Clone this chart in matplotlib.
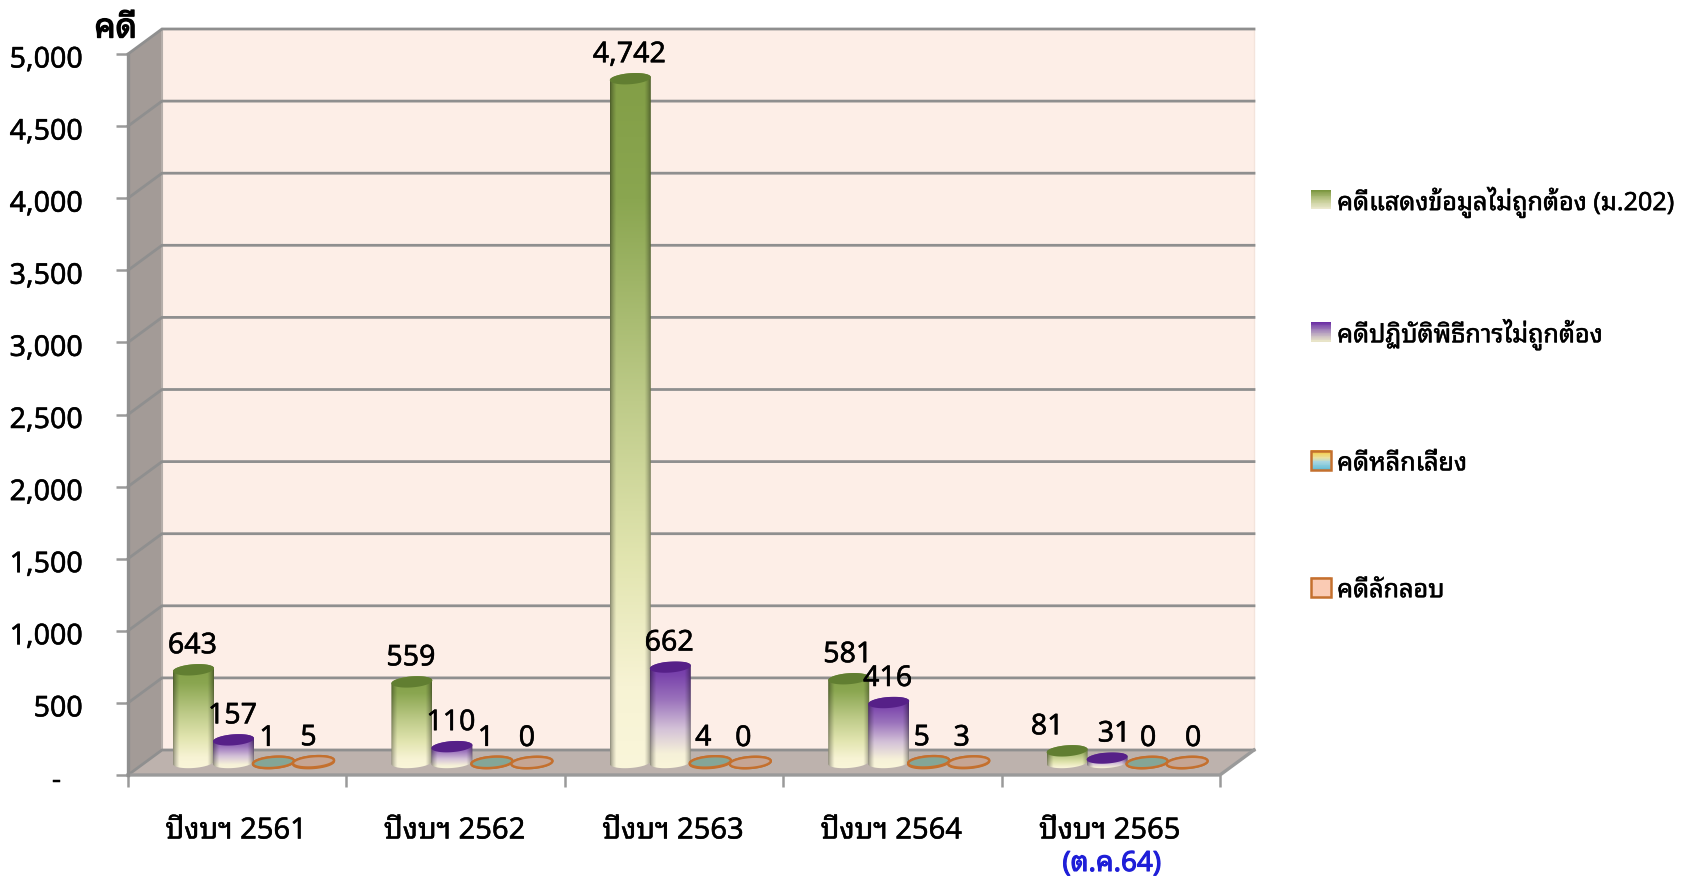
import numpy as np
import matplotlib
matplotlib.use('Agg')
import matplotlib.pyplot as plt
import matplotlib.patheffects as pe
from matplotlib import font_manager as fm
from matplotlib.patches import Polygon, Rectangle
from matplotlib.legend_handler import HandlerBase
from matplotlib.transforms import ScaledTranslation

# ---------- data ----------
categories = ['ปีงบฯ 2561', 'ปีงบฯ 2562', 'ปีงบฯ 2563', 'ปีงบฯ 2564', 'ปีงบฯ 2565']
series_names = ['คดีแสดงข้อมูลไม่ถูกต้อง (ม.202)', 'คดีปฏิบัติพิธีการไม่ถูกต้อง', 'คดีหลีกเลี่ยง', 'คดีลักลอบ']
misdeclared = [643, 559, 4742, 581, 81]
procedure = [157, 110, 662, 416, 31]
evasion = [1, 1, 4, 5, 0]
smuggling = [5, 0, 0, 3, 0]
yticks = [0, 500, 1000, 1500, 2000, 2500, 3000, 3500, 4000, 4500, 5000]
yticklabels = ['-   ', '500', '1,000', '1,500', '2,000', '2,500', '3,000', '3,500', '4,000', '4,500', '5,000']
y_title = 'คดี'
note = '(ต.ค.64)'

W, H = 1687, 877
available = {f.name for f in fm.fontManager.ttflist}
cands = ['Noto Sans Thai Looped', 'Noto Sans Thai', 'Sarabun', 'Taviraj', 'Trirong']
thai = [c for c in cands if c in available][:1]
plt.rcParams['font.family'] = thai + ['DejaVu Sans']
plt.rcParams['font.weight'] = 500
HEAVY = [pe.withStroke(linewidth=0.35, foreground='black')]

fig = plt.figure(figsize=(W / 100, H / 100), dpi=100)
L, R, T, B = 128, 1220, 54, 775
ax = fig.add_axes([L / W, 1 - B / H, (R - L) / W, (B - T) / H])
ax.set_xlim(0, 5)
ax.set_ylim(0, 5000)
ax.patch.set_visible(False)
px = 5 / (R - L)          # data x per pixel
py = 5000 / (B - T)       # data y per pixel

DX, DY = 34 * px, 25 * py
GRID = '#8f8f8f'

# walls and floor
ax.add_patch(Rectangle((DX, DY), 5, 5000, fc='#fdeee7', ec='none', zorder=1, clip_on=False))
ax.add_patch(Polygon([(0, 0), (DX, DY), (DX, 5000 + DY), (0, 5000)], fc='#a39b97', ec='none', zorder=1.1, clip_on=False))
ax.add_patch(Polygon([(0, 0), (5, 0), (5 + DX, DY), (DX, DY)], fc='#bdb2ad', ec='none', zorder=1.1, clip_on=False))
for v in yticks:
    ax.plot([0, DX, 5 + DX], [v, v + DY, v + DY], color=GRID, lw=2.0, zorder=1.5, clip_on=False, solid_joinstyle='miter')
ax.plot([0, 5, 5 + DX], [0, 0, DY], color='#9a9a9a', lw=2.4, zorder=1.6, clip_on=False)
ax.plot([0, 0], [0, 5000], color='#8f8f8f', lw=2.4, zorder=1.6, clip_on=False)
ax.plot([DX, DX], [DY, 5000 + DY], color='#b5aeaa', lw=1.5, zorder=1.4, clip_on=False)
ax.plot([5 + DX, 5 + DX], [DY, 5000 + DY], color='#f4e4dc', lw=1, zorder=1.4, clip_on=False)

for s in ax.spines.values():
    s.set_visible(False)
ax.set_yticks(yticks, yticklabels)
ax.set_xticks(range(6), [''] * 6)
ax.tick_params(axis='y', length=8.6, width=1.8, color='#9a9a9a', labelsize=20.6, pad=24, labelcolor='black')
ax.tick_params(axis='x', length=8.6, width=1.8, color='#9a9a9a')
shift = ScaledTranslation(0, -6 / 100, fig.dpi_scale_trans)
for tick in ax.yaxis.get_major_ticks():
    tick.label1.set_va('center')
    tick.label1.set_transform(tick.label1.get_transform() + shift)
    tick.label1.set_path_effects(HEAVY)

# cylinder drawing
HALF_W = 20.5 * px
RY = 5.5 * py
TILT = 1.5 * py
BASE = 12.5 * py
C0, STEP = (193.5 - L) * px, 40 * px

GREEN = [(0, (130, 158, 70)), (.18, (138, 166, 80)), (.47, (190, 203, 137)), (.70, (226, 229, 176)), (.88, (247, 243, 212)), (1, (250, 246, 218))]
PURPLE = [(0, (112, 52, 168)), (.12, (122, 68, 172)), (.35, (155, 115, 188)), (.62, (212, 194, 216)), (.85, (246, 241, 216)), (1, (250, 246, 218))]
TOPS = ['#617e31', '#562088']


def gradient_image(stops, nx=60, ny=220):
    pos = [p for p, _ in stops]
    rows = np.stack([np.interp(np.linspace(0, 1, ny), pos, [c[i] for _, c in stops]) for i in range(3)], axis=1) / 255
    u = np.linspace(-1, 1, nx)
    shade = 0.58 + 0.42 * np.clip((1 - np.abs(u)) / 0.3, 0, 1) ** 0.7
    return rows[:, None, :] * shade[None, :, None]


def outline(xc, y0, y1):
    t = np.linspace(np.pi, 2 * np.pi, 40)
    xb = xc + HALF_W * np.cos(t)
    yb = y0 + RY * np.sin(t) + TILT * np.cos(t)
    t2 = t[::-1]
    xt = xc + HALF_W * np.cos(t2)
    yt = y1 - RY * np.sin(t2) + TILT * np.cos(t2)
    return np.r_[np.c_[xb, yb], np.c_[xt, yt]]


def top_ellipse(xc, y1):
    t = np.linspace(0, 2 * np.pi, 80)
    return np.c_[xc + HALF_W * np.cos(t), y1 + RY * np.sin(t) + TILT * np.cos(t)]


def cylinder(xc, v, k, z):
    y0, y1 = BASE, BASE + v
    if k < 2:
        poly = Polygon(outline(xc, y0, y1), closed=True, fc='none', ec='none', zorder=z, clip_on=False)
        ax.add_patch(poly)
        im = ax.imshow(gradient_image(GREEN if k == 0 else PURPLE), extent=(xc - HALF_W, xc + HALF_W, y0 - RY - TILT, y1 + RY), aspect='auto',
                       origin='upper', zorder=z, interpolation='bilinear', clip_on=True)
        im.set_clip_path(poly)
        ax.add_patch(Polygon(top_ellipse(xc, y1), closed=True, fc=TOPS[k], ec='none', zorder=z + .01, clip_on=False))
    else:
        fc = '#84a697' if k == 2 else '#c6a593'
        ax.add_patch(Polygon(np.r_[outline(xc, y0, y1)], closed=True, fc=fc, ec='#c4702e', lw=1.7, zorder=z, clip_on=False))
        ax.add_patch(Polygon(top_ellipse(xc, y1), closed=True, fc=fc, ec='#c4702e', lw=1.7, zorder=z + .01, clip_on=False))


all_series = [misdeclared, procedure, evasion, smuggling]
# small hand offsets for value labels, in pixels
label_dx = {(0, 2): -6, (0, 3): -5, (1, 2): -6, (1, 3): -5, (2, 2): -7, (2, 3): -7, (3, 2): -7, (3, 3): -7,
            (4, 0): -20, (4, 1): 7, (4, 2): 1, (4, 3): 6}
for c in range(5):
    for k, vals in enumerate(all_series):
        xc = c + C0 + k * STEP
        v = vals[c]
        cylinder(xc, v, k, 3 + k + c * .1)
        ax.text(xc + label_dx.get((c, k), -1) * px, BASE + v + 24 * py, f'{v:,}', ha='center', va='center', fontsize=20.6,
                color='black', zorder=20, clip_on=False, path_effects=HEAVY)

# category labels
for i, c in enumerate(categories):
    ax.text(i + .5 - 1 * px, -56 * py, c, ha='center', va='center', fontsize=21, color='black', zorder=20, clip_on=False, path_effects=HEAVY)
ax.text(4.5 + 1 * px, -89 * py, note, ha='center', va='center', fontsize=20, color='#1f1fd8', zorder=20, clip_on=False,
        path_effects=[pe.withStroke(linewidth=0.8, foreground='#1f1fd8')])
ax.text(9 * px, 5000 + 25 * py, y_title, ha='right', va='center', fontsize=24, color='black', zorder=20, clip_on=False,
        path_effects=[pe.withStroke(linewidth=1.0, foreground='black')])


# legend with gradient swatches
class GradHandler(HandlerBase):
    def __init__(self, colors, edge=None):
        super().__init__()
        self.colors, self.edge = colors, edge

    def create_artists(self, legend, orig, x, y, w, h, fontsize, trans):
        out = []
        n = 24
        pos = [p for p, _ in self.colors]
        for i in range(n):
            f = i / (n - 1)
            col = [np.interp(f, pos, [c[j] for _, c in self.colors]) / 255 for j in range(3)]
            out.append(Rectangle((x, y + h - (i + 1) * h / n), w, h / n + .3, fc=col, ec='none', transform=trans))
        if self.edge:
            out.append(Rectangle((x, y), w, h, fc='none', ec=self.edge, lw=1.8, transform=trans))
        return out


LEG = [([(0, (122, 150, 62)), (.5, (190, 200, 140)), (1, (235, 232, 205))], None),
       ([(0, (108, 48, 165)), (.5, (175, 150, 190)), (1, (232, 228, 200))], None),
       ([(0, (245, 200, 60)), (.4, (235, 225, 160)), (.6, (170, 215, 225)), (1, (105, 190, 215))], '#c4702e'),
       ([(0, (250, 203, 180)), (1, (250, 203, 180))], '#c4702e')]
handles = [Rectangle((0, 0), 1, 1, label=n) for n in series_names]
hmap = {h: GradHandler(c, e) for h, (c, e) in zip(handles, LEG)}
leg = fig.legend(handles=handles, handler_map=hmap, loc='upper left', bbox_to_anchor=(1311 / W, 1 - 187 / H), bbox_transform=fig.transFigure,
                 frameon=False, borderpad=0, borderaxespad=0, fontsize=18.1, handlelength=.78, handleheight=.78, handletextpad=.26, labelspacing=4.05, labelcolor='black')
leg.set_zorder(30)
for t in leg.get_texts():
    t.set_path_effects(HEAVY)

ax.set_xlim(0, 5)
ax.set_ylim(0, 5000)
fig.savefig('out.png', dpi=100, facecolor='white')
